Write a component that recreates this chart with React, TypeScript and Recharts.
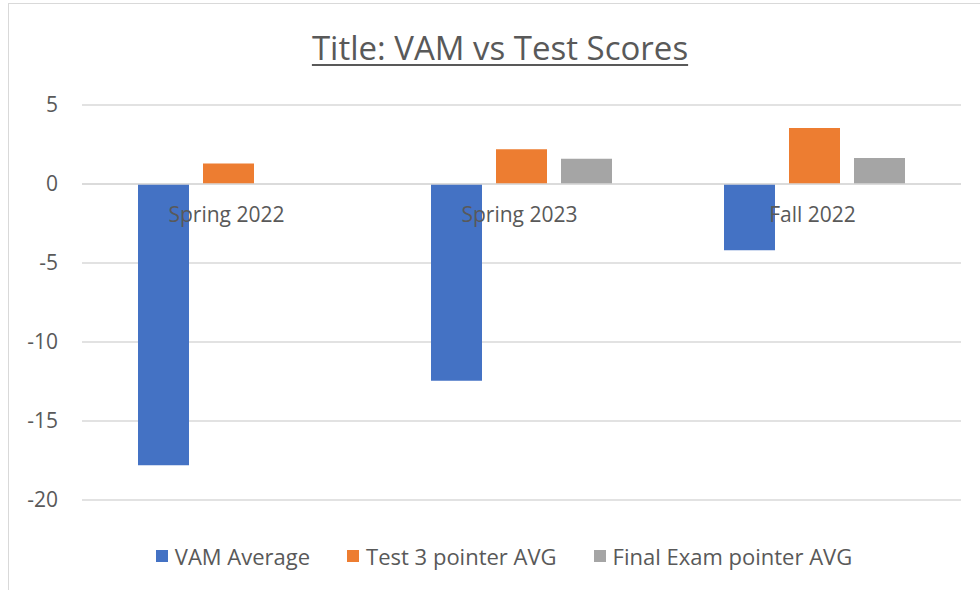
import React from 'react'
import { BarChart, Bar, XAxis, YAxis, CartesianGrid, ReferenceLine, Legend } from 'recharts'

const CATEGORIES = ['Spring 2022', 'Spring 2023', 'Fall 2022']
const VAM_AVERAGE = [-17.8, -12.45, -4.2]
const TEST3_AVG = [1.3, 2.2, 3.55]
const FINAL_AVG: (number | null)[] = [null, 1.6, 1.65]
const Y_TICKS = [-20, -15, -10, -5, 0, 5]

const SERIES = [
  { key: 'vam', name: 'VAM Average', color: '#4472c4' },
  { key: 'test3', name: 'Test 3 pointer AVG', color: '#ed7d31' },
  { key: 'final', name: 'Final Exam pointer AVG', color: '#a5a5a5' },
]

const data = CATEGORIES.map((cat, i) => ({
  cat,
  vam: VAM_AVERAGE[i],
  test3: TEST3_AVG[i],
  final: FINAL_AVG[i],
}))

const FONT = '"Open Sans", Calibri, sans-serif'
const TEXT = '#595959'
const GRID = '#d9d9d9'

// category names sit just under the zero line, like Excel's axis crossing at 0
const CatLabels = (props: any) => {
  const vb = props.viewBox ?? {}
  const { x = 0, y = 0, width = 0 } = vb
  return (
    <g>
      {CATEGORIES.map((c, i) => (
        <text key={c} x={x + (width * (i + 0.5)) / CATEGORIES.length - 2} y={y + 38}
          textAnchor="middle" fill={TEXT} fontSize={21} fontFamily={FONT}>
          {c}
        </text>
      ))}
    </g>
  )
}

const LegendContent = () => (
  <div style={{
    height: 90, boxSizing: 'border-box', paddingTop: 21, paddingLeft: 28,
    display: 'flex', justifyContent: 'center', gap: 37,
    fontFamily: FONT, fontSize: 22, color: TEXT, lineHeight: '26px',
  }}>
    {SERIES.map(s => (
      <span key={s.key} style={{ display: 'inline-flex', alignItems: 'center' }}>
        <span style={{ width: 12, height: 12, background: s.color, marginRight: 7, display: 'inline-block' }} />
        {s.name}
      </span>
    ))}
  </div>
)

export default function App() {
  return (
    <div style={{ position: 'absolute', left: 0, top: 0, width: 980, height: 590, overflow: 'hidden', background: '#fff' }}>
      <div style={{ position: 'absolute', left: 8, top: 3, width: 1100, height: 700, border: `1px solid ${GRID}` }} />
      <div style={{
        position: 'absolute', left: 0, top: 28, width: 1000, textAlign: 'center',
        fontFamily: FONT, fontSize: 33, lineHeight: '40px', color: TEXT,
        textDecoration: 'underline', textDecorationThickness: 2, textUnderlineOffset: 4,
      }}>
        Title: VAM vs Test Scores
      </div>
      <div style={{ position: 'absolute', left: 0, top: 0 }}>
        <BarChart width={980} height={590} data={data}
          margin={{ top: 105, right: 19, left: 0, bottom: 0 }}
          barCategoryGap={56} barGap={14}>
          <CartesianGrid vertical={false} stroke={GRID} strokeWidth={1.5} />
          <XAxis dataKey="cat" hide />
          <YAxis width={82} domain={[-20, 5]} ticks={Y_TICKS} interval={0}
            axisLine={false} tickLine={false} tickSize={0} tickMargin={24}
            tick={{ fill: TEXT, fontSize: 21, fontFamily: FONT }} />
          {SERIES.map(s => (
            <Bar key={s.key} dataKey={s.key} name={s.name} fill={s.color} isAnimationActive={false} />
          ))}
          <ReferenceLine y={0} stroke={GRID} strokeWidth={1.5} label={CatLabels} />
          <Legend verticalAlign="bottom" content={LegendContent} wrapperStyle={{ left: 0, width: 980 }} />
        </BarChart>
      </div>
    </div>
  )
}
